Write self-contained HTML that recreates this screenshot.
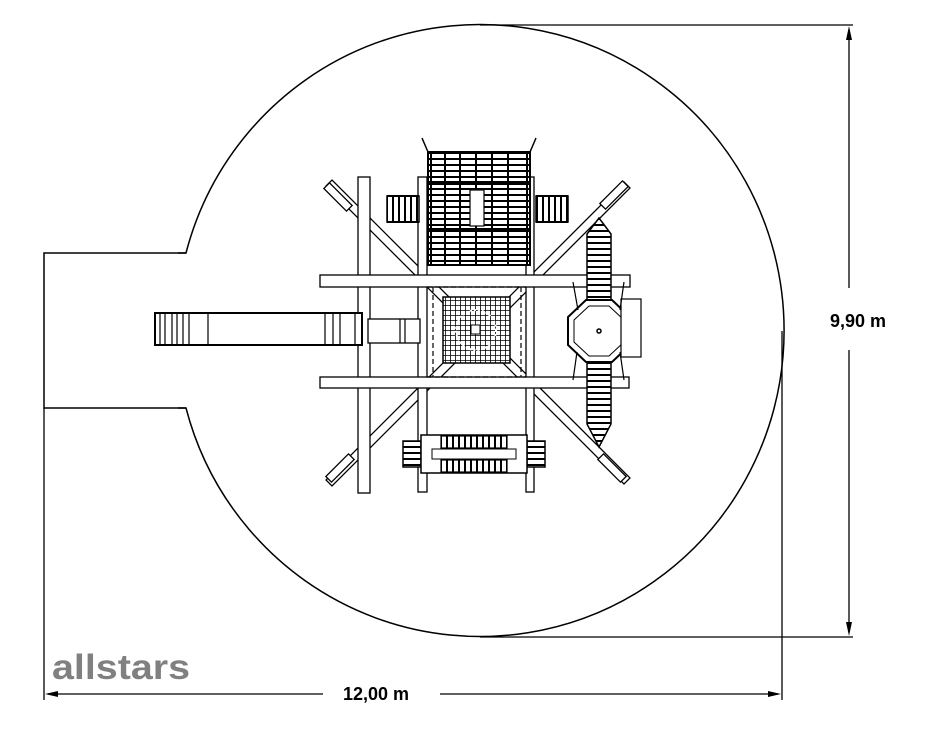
<!DOCTYPE html>
<html><head><meta charset="utf-8"><style>
html,body{margin:0;padding:0;background:#fff;width:928px;height:742px;overflow:hidden}
svg{display:block}
text{font-family:"Liberation Sans",Arial,sans-serif}
</style></head><body>
<svg width="928" height="742" viewBox="0 0 928 742" xmlns="http://www.w3.org/2000/svg">
<defs>
<pattern id="rungsV" width="8" height="6" patternUnits="userSpaceOnUse"><rect width="8" height="6" fill="#fff"/><line x1="0" y1="3" x2="8" y2="3" stroke="#000" stroke-width="2"/></pattern>
<pattern id="rungsH" width="6" height="8" patternUnits="userSpaceOnUse"><rect width="6" height="8" fill="#fff"/><line x1="3" y1="0" x2="3" y2="8" stroke="#000" stroke-width="2"/></pattern>
<pattern id="net" width="5" height="5" patternUnits="userSpaceOnUse"><rect width="5" height="5" fill="#fff"/><path d="M0 0H5M0 0V5" stroke="#000" stroke-width="1.6"/></pattern>
</defs>
<path d="M186 253 A304 306 0 1 1 186 408 L44 408 L44 253 Z" fill="none" stroke="#000" stroke-width="1.5"/>
<path d="M178 253 H186 M178 408 H186" stroke="#000" stroke-width="1.5"/>
<g stroke="#000" stroke-width="1.3" fill="none">
<line x1="480" y1="25" x2="853" y2="25"/>
<line x1="480" y1="637" x2="853" y2="637"/>
<line x1="849" y1="30" x2="849" y2="288"/>
<line x1="849" y1="350" x2="849" y2="632"/>
<line x1="44" y1="408" x2="44" y2="700"/>
<line x1="782" y1="331" x2="782" y2="700"/>
<line x1="48" y1="694" x2="323" y2="694"/>
<line x1="440" y1="694" x2="778" y2="694"/>
</g>
<g fill="#000">
<path d="M849 26 L846 40 L852 40 Z"/>
<path d="M849 636 L846 622 L852 622 Z"/>
<path d="M45 694 L58 691 L58 697 Z"/>
<path d="M781 694 L768 691 L768 697 Z"/>
</g>
<text x="830" y="327" font-size="18" font-weight="bold">9,90 m</text>
<text x="343" y="700" font-size="18" font-weight="bold">12,00 m</text>
<text x="52" y="679" font-size="35" font-weight="bold" fill="#808080" textLength="138" lengthAdjust="spacingAndGlyphs">allstars</text>
<g stroke="#000" stroke-width="1.3" fill="#fff">
<polygon points="326,186 332,180 630,478 624,484"/>
<polygon points="624,182 630,188 332,486 326,480"/>
<rect x="358" y="177" width="12" height="316"/>
<rect x="418" y="177" width="9" height="315"/>
<rect x="526" y="177" width="8" height="315"/>
<rect x="320" y="275" width="310" height="12"/>
<rect x="320" y="377" width="309" height="11"/>
<rect x="155" y="313" width="207" height="32" stroke-width="2"/>
<rect x="368" y="319" width="52" height="24"/>
</g>
<g stroke="#000" stroke-width="1.2" fill="none">
<path d="M160 313V345M165 313V345M172 313V345M177 313V345M183 313V345M189 313V345M208 313V345M325 313V345M333 313V345M340 313V345M355 313V345M400 319V343M405 319V343"/>
<path d="M427 287 H526 M427 377 H526" stroke-dasharray="5 3"/>
<path d="M433 287 V377 M521 287 V377" stroke-dasharray="5 3"/>
</g>
<g stroke="#000" fill="none">
<rect x="428" y="152" width="102" height="113" fill="url(#rungsV)" stroke-width="2"/>
<path d="M431 152V265M445 152V265M460 152V265M476 152V265M492 152V265M508 152V265M527 152V265" stroke-width="2"/>
<path d="M428 183H530M428 230H530" stroke-width="4"/>
<rect x="470" y="190" width="14" height="36" fill="#fff" stroke-width="1.2"/>
<path d="M428 152 L422 138 M530 152 L536 138" stroke-width="1.5"/>
<rect x="387" y="196" width="32" height="26" fill="url(#rungsH)" stroke-width="1.5"/>
<rect x="536" y="196" width="32" height="26" fill="url(#rungsH)" stroke-width="1.5"/>
<path d="M387 196H419M387 222H419M536 196H568M536 222H568" stroke-width="2"/>
</g>
<rect x="443" y="297" width="67" height="66" fill="url(#net)" stroke="#000" stroke-width="1.5"/>
<circle cx="476" cy="330" r="20" fill="none" stroke="#fff" stroke-width="2" stroke-dasharray="2 2"/>
<rect x="471" y="325" width="9" height="9" fill="#fff" stroke="#000"/>
<g stroke="#000" stroke-width="1.5">
<polygon points="599,218 611,234 611,302 587,302 587,234" fill="url(#rungsV)"/>
<polygon points="587,358 611,358 611,424 599,447 587,424" fill="url(#rungsV)"/>
<polygon points="586,300 612,300 630,317 630,345 612,362 586,362 568,345 568,317" fill="#fff" stroke-width="2"/>
<polygon points="589,306 609,306 624,320 624,342 609,356 589,356 574,342 574,320" fill="#fff" stroke-width="1"/>
<circle cx="599" cy="331" r="2" fill="#fff"/>
<rect x="621" y="299" width="20" height="58" fill="#fff" stroke-width="1.2"/>
<path d="M573 282 L578 310 M624 282 L620 310 M573 380 L577 352 M624 380 L620 352" stroke-width="1.2"/>
</g>
<g stroke="#000" fill="none">
<rect x="403" y="441" width="18" height="26" fill="url(#rungsV)" stroke-width="1.5"/>
<rect x="527" y="441" width="18" height="26" fill="url(#rungsV)" stroke-width="1.5"/>
<rect x="421" y="435" width="106" height="38" fill="#fff" stroke-width="1.5"/>
<rect x="441" y="436" width="66" height="12" fill="url(#rungsH)" stroke-width="1.2"/>
<rect x="441" y="460" width="66" height="12" fill="url(#rungsH)" stroke-width="1.2"/>
<rect x="432" y="449" width="84" height="10" fill="#fff" stroke-width="1"/>
</g>
<g stroke="#000" stroke-width="1.3" fill="#fff">
<rect x="-4" y="-16" width="8" height="32" transform="translate(338,197) rotate(-45)"/>
<rect x="-4" y="-16" width="8" height="32" transform="translate(614,195) rotate(45)"/>
<rect x="-4" y="-16" width="8" height="32" transform="translate(340,468) rotate(45)"/>
<rect x="-4" y="-16" width="8" height="32" transform="translate(612,468) rotate(-45)"/>
</g>
</svg>
</body></html>
